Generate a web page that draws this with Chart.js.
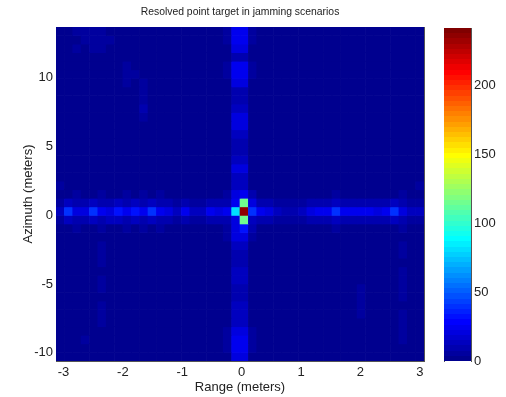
<!DOCTYPE html>
<html>
<head>
<meta charset="utf-8">
<script src="https://cdn.jsdelivr.net/npm/chart.js@4.4.1/dist/chart.umd.min.js"></script>
<style>
  html, body { margin: 0; padding: 0; background: #fff; }
  #wrap { position: relative; width: 506px; height: 397px; }
  #heat { position: absolute; left: 0; top: 0; width: 440px; height: 397px; }
  #cbar { position: absolute; left: 440px; top: 0; width: 66px; height: 397px; }
</style>
</head>
<body>
<div id="wrap">
  <canvas id="heat" width="440" height="397"></canvas>
  <canvas id="cbar" width="66" height="397"></canvas>
</div>
<script>
// axis limits and ticks
const rangeLimits = [-3.125, 3.07];
const azimuthLimits = [-10.59, 13.69];
const rangeTicks = [-3, -2, -1, 0, 1, 2, 3];
const azimuthTicks = [-10, -5, 0, 5, 10];
const colorTicks = [0, 50, 100, 150, 200];
const colorMax = 242;

// magnitude levels, one char per cell
const levelKeys = ["0", "1", "2", "3", "4", "5", "6", "7", "8", "a", "b", "c"];
const levelValues = [3, 7, 11, 15, 19, 24, 31, 38, 46, 80, 115, 236];

// image rows, top (high azimuth) to bottom, 44 range cells each
const magnitudeRows = [
  "00111100000000000000155100000000000000000000",
  "00011110000000000000155100000000000000000000",
  "00101100000000000000044000000000000000000000",
  "00000000000000000000022000000000000000000000",
  "00000000100000000000155100000000000000000000",
  "00000000110000000000155100000000000000000000",
  "00000000101000000000044000000000000000000000",
  "00000000001000000000022000000000000000000000",
  "00000000001000000000022000000000000000000000",
  "00000000002000000000033000000000000000000000",
  "00000000001000000000044000000000000000000000",
  "00000000000000000000044000000000000000000000",
  "00000000000000000000033000000000000000000000",
  "00000000000000000000022000000000000000000000",
  "00000000000000000000022000000000000000000000",
  "00000000000000000000033000000000000000000000",
  "00000000000000000000044000000000000000000000",
  "00000000000000000000033000000000000000000000",
  "10000000000000000000033000000000000000000001",
  "00100100101010000000145200000000010000000100",
  "1322322323232212112225b422111122232222223211",
  "374475465657543533545ac754322345575555457433",
  "1322323323232212112224b322111122232222223211",
  "00100100101010000000146200000000010000000100",
  "00000000000000000000144100000000000000000000",
  "00000100000000000000033000000000000000000100",
  "00000100000000000000022000000000000000000100",
  "00000100000000000000022000000000000000000000",
  "00000000000000000000033000000000000000000100",
  "00000100000000000000033000000000000000000100",
  "00000100000000000000022000000000000010000100",
  "00000000000000000000022000000000000010000100",
  "00000100000000000000033000000000000010000000",
  "00000100000000000000033000000000000010000100",
  "00000100000000000000033000000000000000000100",
  "00000000000000000000144100000000000000000100",
  "00010000000000000000155100000000000000000100",
  "00000000000000000000155100000000000000000000",
  "00000000000000000000044000000000000000000000"
];

const FONT = "'Liberation Sans', Arial, Helvetica, sans-serif";
const TEXT = "#222";
const EDGE = "#555";

// MATLAB style jet, 64 colours
function jetIndex(k) {
  const t = (k + 1) / 64;
  const f = x => Math.round(255 * Math.min(Math.max(x, 0), 1));
  return "rgb(" + f(1.5 - Math.abs(4 * t - 3)) + "," + f(1.5 - Math.abs(4 * t - 2)) + "," + f(1.5 - Math.abs(4 * t - 1)) + ")";
}
function jet(v) {
  const k = Math.min(63, Math.max(0, Math.floor(v / colorMax * 64)));
  return jetIndex(k);
}

const nCols = 44;
const nRows = magnitudeRows.length;
const dx = (rangeLimits[1] - rangeLimits[0]) / nCols;
const dy = (azimuthLimits[1] - azimuthLimits[0]) / nRows;

const heatDatasets = magnitudeRows.map((row, i) => {
  const top = azimuthLimits[1] - i * dy;
  const bottom = azimuthLimits[1] - (i + 1) * dy;
  const cells = row.split("");
  return {
    data: cells.map((ch, j) => ({ x: rangeLimits[0] + (j + 0.5) * dx, y: [bottom, top] })),
    backgroundColor: cells.map(ch => jet(levelValues[levelKeys.indexOf(ch)])),
    borderWidth: 0,
    grouped: false,
    barPercentage: 1,
    categoryPercentage: 1
  };
});

function setTicks(list) {
  return scale => { scale.ticks = list.map(v => ({ value: v })); };
}

const tickFont = { family: FONT, size: 13 };

new Chart(document.getElementById("heat"), {
  type: "bar",
  data: { datasets: heatDatasets },
  options: {
    responsive: false,
    animation: false,
    events: [],
    layout: { padding: { left: 0, right: 16, top: 0, bottom: 0 } },
    plugins: { legend: { display: false }, tooltip: { enabled: false } },
    scales: {
      x: {
        type: "linear",
        min: rangeLimits[0],
        max: rangeLimits[1],
        offset: false,
        afterBuildTicks: setTicks(rangeTicks),
        afterFit: s => { s.height = 36; },
        grid: { display: false, drawTicks: false },
        border: { display: true, color: EDGE },
        ticks: { padding: 4, color: TEXT, font: tickFont, maxRotation: 0 },
        title: { display: true, text: "Range (meters)", color: TEXT, font: tickFont, padding: { top: 0, bottom: 2 } }
      },
      y: {
        type: "linear",
        min: azimuthLimits[0],
        max: azimuthLimits[1],
        afterBuildTicks: setTicks(azimuthTicks),
        afterFit: s => { s.width = 56; },
        grid: { display: false, drawTicks: false },
        border: { display: true, color: EDGE },
        ticks: { padding: 3, color: TEXT, font: tickFont },
        title: { display: true, text: "Azimuth (meters)", color: TEXT, font: tickFont, padding: { top: 21, bottom: 0 } }
      },
      xTop: {
        type: "linear",
        position: "top",
        min: rangeLimits[0],
        max: rangeLimits[1],
        afterFit: s => { s.height = 27; },
        grid: { display: false, drawTicks: false },
        border: { display: true, color: EDGE },
        ticks: { display: false },
        title: { display: true, text: "Resolved point target in jamming scenarios", color: TEXT, font: { family: FONT, size: 10.4 }, padding: { top: 6, bottom: 0 } }
      },
      yRight: {
        type: "linear",
        position: "right",
        min: azimuthLimits[0],
        max: azimuthLimits[1],
        afterFit: s => { s.width = 0; },
        grid: { display: false, drawTicks: false },
        border: { display: true, color: EDGE },
        ticks: { display: false }
      }
    }
  }
});

function jetGradient(chart) {
  const { ctx, chartArea, scales } = chart;
  if (!chartArea) return null;
  const y0 = scales.y.getPixelForValue(0);
  const y1 = scales.y.getPixelForValue(colorMax);
  const g = ctx.createLinearGradient(0, y0, 0, y1);
  for (let k = 0; k < 64; k++) {
    g.addColorStop(k / 64, jetIndex(k));
    g.addColorStop((k + 1) / 64, jetIndex(k));
  }
  return g;
}

new Chart(document.getElementById("cbar"), {
  type: "bar",
  data: {
    labels: [""],
    datasets: [{
      data: [[0, colorMax]],
      backgroundColor: ctx => jetGradient(ctx.chart),
      borderWidth: 0,
      barPercentage: 1,
      categoryPercentage: 1
    }]
  },
  options: {
    responsive: false,
    animation: false,
    events: [],
    layout: { padding: { left: 4, right: 0, top: 28, bottom: 36 } },
    plugins: { legend: { display: false }, tooltip: { enabled: false } },
    scales: {
      x: { display: false },
      y: {
        position: "right",
        min: 0,
        max: colorMax,
        afterBuildTicks: setTicks(colorTicks),
        afterFit: s => { s.width = 35; },
        grid: { display: false, drawTicks: false },
        border: { display: true, color: EDGE },
        ticks: { padding: 3, color: TEXT, font: tickFont }
      },
      yLeft: {
        position: "left",
        min: 0,
        max: colorMax,
        afterFit: s => { s.width = 0; },
        grid: { display: false, drawTicks: false },
        border: { display: true, color: EDGE },
        ticks: { display: false }
      }
    }
  }
});
</script>
</body>
</html>
